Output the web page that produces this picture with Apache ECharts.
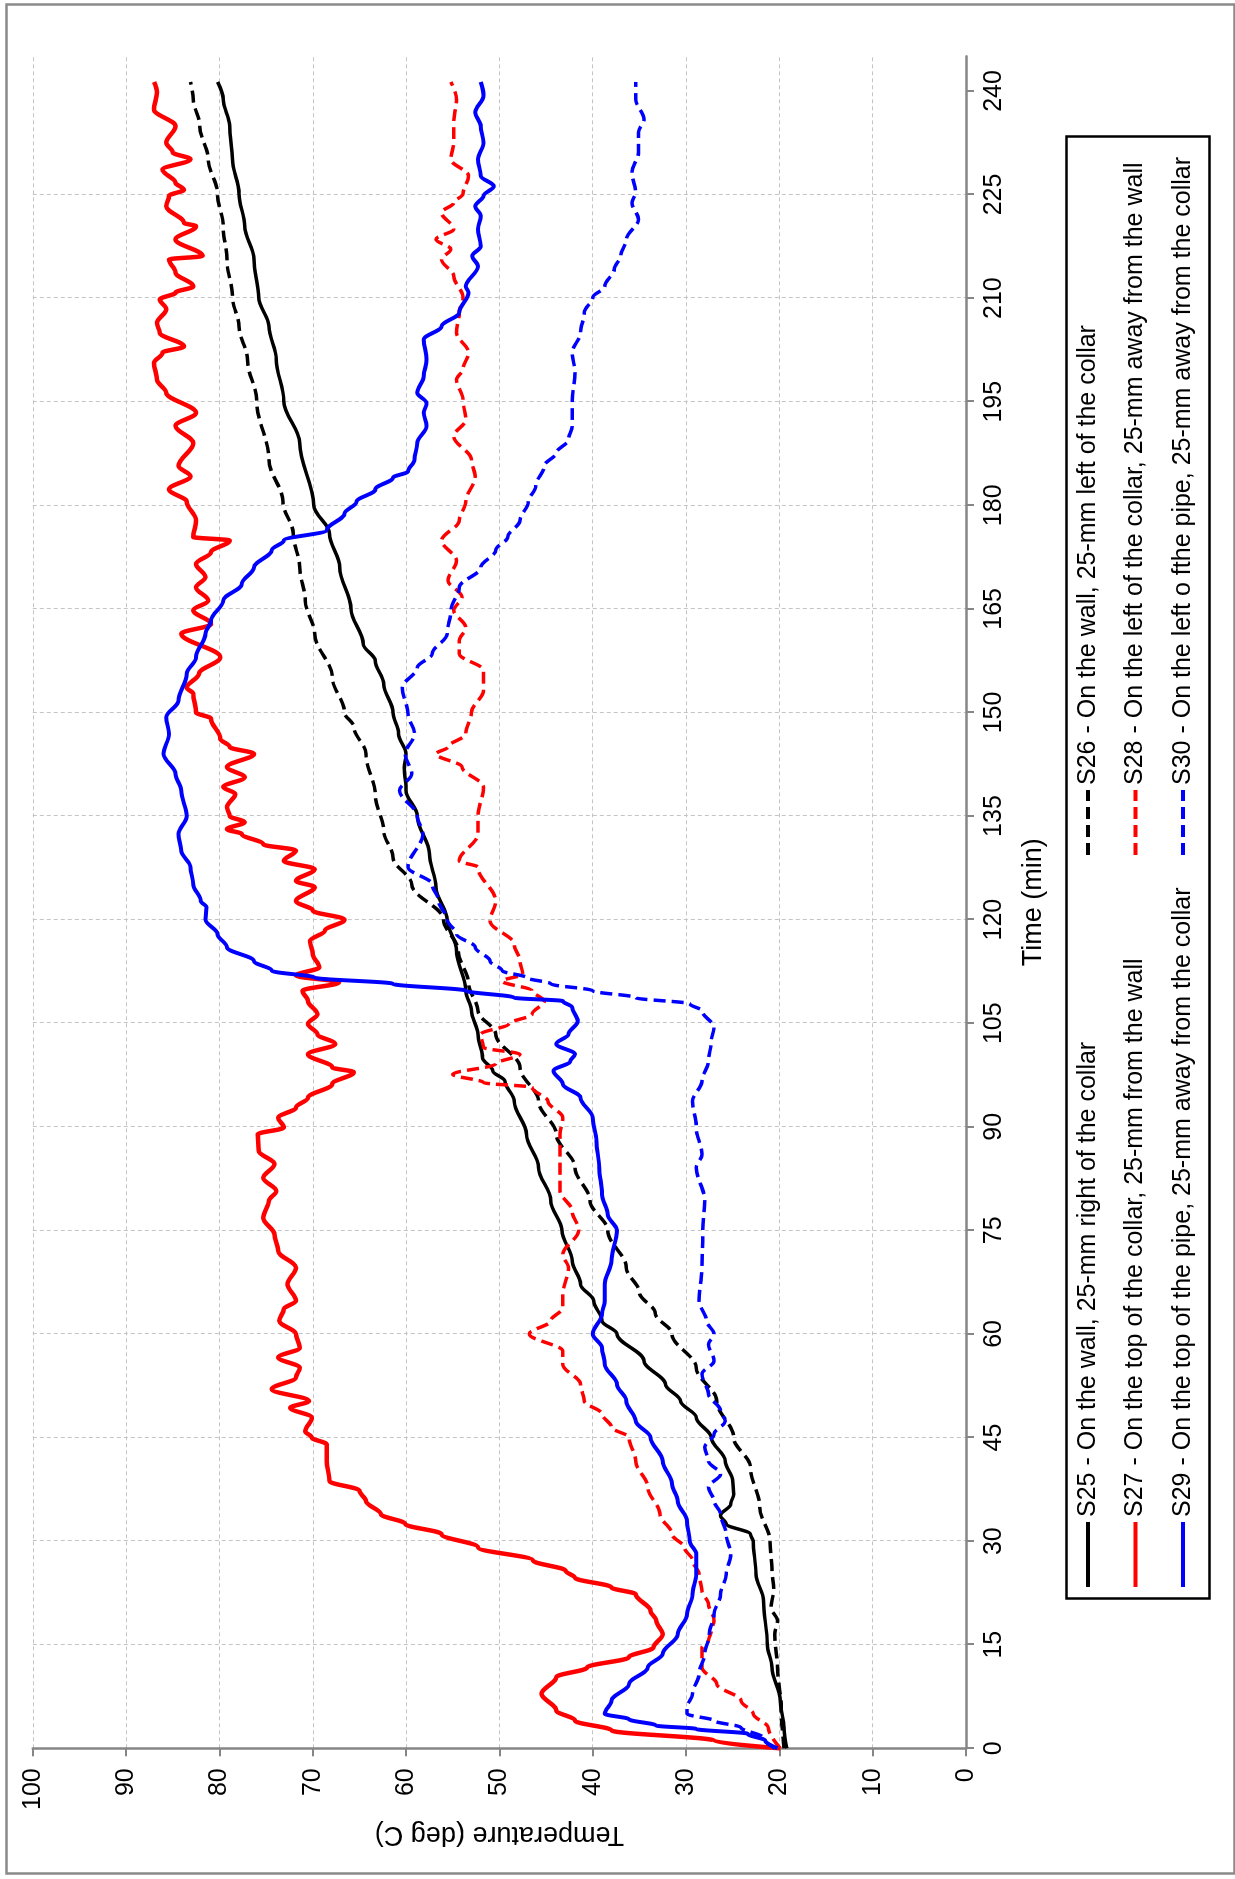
<!DOCTYPE html>
<html>
<head>
<meta charset="utf-8">
<script src="https://cdn.jsdelivr.net/npm/echarts@6/dist/echarts.min.js"></script>
<style>
  html, body { margin: 0; padding: 0; width: 1235px; height: 1879px; overflow: hidden; background: #fff; }
  /* The chart is laid out landscape and turned a quarter-turn counter-clockwise onto the portrait page. */
  #chart { position: absolute; left: 0; top: 0; width: 1879px; height: 1235px;
           transform-origin: 0 0; transform: translateY(1879px) rotate(-90deg); }
</style>
</head>
<body>
<div id="chart"></div>
<script>
// Thermocouple readings, [time (min), temperature (deg C)]
const seriesNames = [
  'S25 - On the wall, 25-mm right of the collar',
  'S26 - On the wall, 25-mm left of the collar',
  'S27 - On the top of the collar, 25-mm from the wall',
  'S28 - On the left of the collar, 25-mm away from the wall',
  'S29 - On the top of the pipe, 25-mm away from the collar',
  'S30 - On the left o fthe pipe, 25-mm away from the collar'
];

const timeTicks = [0, 15, 30, 45, 60, 75, 90, 105, 120, 135, 150, 165, 180, 195, 210, 225, 240];

const s25 = [[0,19.2],[3,19.5],[6.9,19.9],[11.7,20.8],[15.1,21.3],[21.4,21.7],[25.2,22.5],[30,22.8],[31,23.1],[32.5,25.7],[33.7,26.3],[35.4,25.2],[36.8,24.9],[38.7,25.0],[41.6,25.8],[45,27.3],[47.9,28.9],[50.3,30.6],[52.7,32.2],[56.1,34.5],[60,37.4],[61.9,39.0],[64.8,39.9],[67.2,41.3],[70.6,42.2],[75,43.3],[79.3,44.5],[84.1,45.8],[88.9,47.1],[93.7,48.4],[96.6,49.4],[98.1,50.7],[100,51.8],[103.4,52.3],[106.8,53.0],[109.7,53.6],[115.5,54.6],[120,55.6],[124.7,56.8],[129.5,57.5],[135,58.8],[138.7,60.0],[142,60.2],[144,60.0],[146.9,60.8],[150,61.4],[154.1,62.4],[157.5,63.3],[159.9,64.6],[165,65.9],[171,67.1],[175.9,68.2],[180,69.9],[189,71.4],[195.1,73.1],[201.1,73.9],[205.9,74.7],[210.1,75.8],[215.6,76.3],[220.4,77.3],[225.1,77.9],[230.1,78.6],[234.9,78.9],[238.8,79.6],[241.3,80.2]];

const s26 = [[0,19.5],[6,19.8],[11.7,20.2],[16.5,20.5],[18.5,20.2],[20.4,20.9],[23,20.6],[26,20.8],[30,21.0],[34.9,22.1],[40.7,23.1],[45,24.9],[50.3,26.7],[55.1,28.9],[60,31.5],[63,33.3],[66,35.0],[69.6,36.4],[75,38.4],[79.3,40.3],[84.1,41.9],[88.9,43.9],[93.7,45.8],[98.6,47.8],[103.4,50.4],[106.8,52.3],[110.7,53.3],[115.5,54.4],[120,56.0],[125.1,59.4],[129,61.4],[132.9,62.4],[138,63.3],[144,64.3],[147.9,65.6],[150,66.6],[155.1,67.9],[161.4,69.8],[166.2,70.8],[171,71.4],[175.9,72.1],[180.5,73.2],[186.6,74.7],[195.1,76.0],[201.1,77.0],[205.9,77.9],[210.1,78.6],[215.6,79.2],[220.4,79.6],[225.1,80.2],[230.1,81.2],[234.9,82.1],[238.8,82.8],[241.3,83.1]];

const s27 = [[0,19.9],[1.1,27.0],[2.6,38.0],[4.0,41.9],[5.5,43.9],[7.9,45.5],[10.3,43.9],[11.7,40.6],[13.2,36.1],[14.6,33.5],[16.5,32.5],[18.5,33.2],[19.9,33.8],[22.3,35.4],[23.3,38.0],[24.7,41.9],[25.7,42.9],[27.2,46.4],[29.1,52.3],[31.0,56.2],[32.5,60.1],[33.9,62.7],[35.8,64.3],[37.3,65.0],[38.7,68.2],[41.6,68.5],[44.0,68.5],[45,70.1],[45.9,70.8],[47.9,70.1],[49.3,72.4],[50.3,70.4],[52,74.4],[53.7,71.8],[55.1,71.4],[56.6,73.7],[58.0,71.4],[60,71.8],[61.9,73.6],[63.6,73.1],[64.8,71.8],[67.2,72.7],[69.6,71.8],[72,73.7],[74.4,74.1],[76.8,75.3],[79.3,74.7],[80.7,73.9],[82.6,75.3],[84.6,74.1],[86.5,75.8],[88.9,75.9],[89.9,73.1],[91.3,73.7],[92.8,71.8],[94.2,70.5],[96.2,67.9],[97.9,65.6],[98.6,67.9],[100.5,70.5],[102,67.6],[103.4,69.5],[104.9,70.5],[106.3,69.5],[108.2,70.5],[109.7,71.1],[110.9,67.2],[111.9,71.8],[113.1,69.3],[115,70.0],[116.9,70.3],[118.4,68.7],[120,66.6],[121.3,70.0],[122.7,71.8],[124.7,69.8],[125.6,71.8],[127.3,69.8],[128.5,73.1],[130,71.8],[130.9,75.3],[132.4,77.6],[133.1,79.2],[134.1,77.3],[135,78.9],[136.3,79.2],[138.2,78.3],[139.2,79.6],[140.6,77.3],[142.1,79.2],[144,76.3],[145,78.9],[146.2,79.9],[149.1,80.9],[150,82.5],[152.7,82.8],[153.6,83.5],[155.6,82.2],[158,79.9],[161.4,84.1],[162.8,80.9],[164.8,82.8],[166.2,81.2],[168.1,82.5],[169.6,81.5],[171.5,82.5],[173.2,80.9],[174.9,78.9],[175.4,82.8],[177.8,82.5],[180.5,83.5],[182.3,85.4],[184.2,83.1],[185.7,84.4],[189,82.8],[191.5,84.7],[193.4,82.5],[196.3,85.7],[198.2,86.7],[200.6,87.0],[202.1,86.1],[203,83.8],[205,86.4],[206.4,86.7],[208.4,85.7],[209.8,86.4],[210.8,84.7],[211.7,82.8],[213.7,84.7],[215.6,85.4],[216.1,81.8],[218.5,84.7],[220.4,82.5],[220.9,83.8],[223.3,85.7],[224.8,85.4],[225.7,83.8],[226.7,84.7],[228.6,86.1],[230.1,83.1],[231.1,85.0],[232.5,85.7],[234.9,84.7],[237.3,87.0],[239.8,86.7],[241.3,87.0]];

const s28 = [[0,19.9],[3.0,21.2],[5.0,22.8],[6.9,24.1],[9.3,26.7],[11.7,28.3],[14.6,28.3],[15.6,27.6],[17.0,27.3],[18.5,27.0],[20.9,27.6],[22.8,28.3],[25.2,28.6],[27.2,29.3],[29.1,30.2],[31.0,31.5],[33.9,32.8],[37.8,34.1],[41.6,35.4],[45,36.1],[46.5,38.0],[48.4,39.0],[50.3,40.9],[52.7,41.3],[55.6,43.2],[57.5,43.2],[60,46.8],[61.9,44.5],[63.8,43.2],[65.7,43.2],[69.6,42.6],[71.5,43.2],[75,41.5],[77.8,42.2],[80.7,43.5],[84.1,43.5],[88.9,43.5],[91.3,43.2],[93.7,44.8],[95.7,46.5],[96.4,51.7],[97.6,55.0],[99.1,50.4],[100.5,47.8],[101.5,51.7],[103.4,52.0],[104.9,49.0],[106.3,46.5],[108.2,45.2],[109.7,46.5],[111.1,49.7],[112.1,47.5],[114,47.8],[116.4,48.4],[119.8,51.0],[122.7,50.4],[127.6,52.3],[128.5,54.3],[132.4,52.3],[135,52.3],[139.2,51.7],[142.1,54.0],[144,56.8],[145,55.5],[146.9,53.6],[150,53.0],[153.2,51.7],[156.1,51.7],[158.5,54.3],[160.4,54.3],[162.3,53.6],[164.8,54.9],[166.7,54.0],[169.1,55.5],[172,54.6],[174.9,56.2],[177.8,54.3],[180.5,53.6],[184.2,52.6],[186.6,53.0],[190,54.9],[192.4,53.6],[195.3,53.9],[198.2,54.6],[199.7,53.9],[202.1,53.3],[205,54.6],[207.9,54.3],[210.1,53.9],[213.2,54.9],[215.6,56.2],[217.1,55.2],[218.5,56.8],[220,54.9],[222.4,56.2],[223.8,54.9],[225.1,53.9],[227.7,53.3],[230.1,55.2],[232.5,54.9],[235.4,54.9],[238.8,54.6],[241.3,55.2]];

const s29 = [[0,20.2],[1.1,21.5],[2.1,23.4],[2.8,28.9],[3.3,33.2],[4.2,36.1],[5.0,38.7],[6.9,38.0],[9.3,36.1],[11.7,34.1],[13.7,32.5],[16.5,30.9],[19.4,29.9],[22.3,29.3],[25.2,28.9],[28.1,28.9],[30,29.6],[32.9,29.9],[35.8,30.9],[38.3,31.5],[41.6,32.5],[45,33.8],[47.4,35.4],[50.3,36.4],[52.7,37.4],[55.6,38.7],[58,39.0],[60,40.0],[62.9,39.0],[64.8,38.7],[67.2,38.7],[70.6,38.0],[75,37.4],[77.3,38.4],[80.2,39.0],[84.1,39.3],[87.9,39.6],[91.3,40.0],[94.2,41.3],[96.2,43.2],[98.1,44.2],[99.5,42.4],[100.5,41.9],[102,43.9],[103.4,42.6],[105.3,41.6],[107.3,42.2],[108.2,43.2],[108.7,48.4],[109.7,53.6],[110.7,61.4],[111.6,69.8],[112.6,74.4],[114,76.3],[116,79.2],[117.9,80.2],[120,81.5],[121.8,81.4],[122.7,82.0],[125.1,82.8],[127.6,83.1],[130,84.1],[132.4,84.4],[135,83.5],[138.7,84.1],[141.1,84.7],[144,86.0],[146.9,85.4],[149.3,85.7],[151.7,84.4],[155.6,83.5],[158,82.5],[161.4,81.5],[163.3,80.9],[166.2,79.6],[168.6,77.6],[171,76.3],[173.5,74.4],[174.9,73.1],[176.4,68.5],[178.8,66.6],[180.5,65.3],[182.3,63.3],[184,61.4],[184.9,59.8],[186.6,59.1],[189,58.8],[191.5,57.8],[193.4,58.1],[194.8,57.8],[196.3,58.8],[198.7,58.1],[201.1,57.8],[204,58.1],[205.9,56.2],[207.9,54.3],[210.8,53.3],[211.7,53.6],[214.6,52.3],[216.1,52.9],[217.5,52.0],[220,52.3],[221.9,52.0],[223.3,52.6],[224.8,51.7],[226.2,50.6],[227.7,52.0],[230.1,52.3],[232.5,51.7],[234.9,52.0],[236.9,52.6],[239.3,51.7],[241.3,52.0]];

const s30 = [[0,20.5],[1.6,21.8],[3.0,24.1],[4.0,27.0],[5.0,29.9],[5.9,29.9],[7.9,29.3],[10.8,28.6],[13.7,28.0],[16.5,27.5],[19.4,27.0],[22.3,26.3],[25.2,25.7],[28.1,25.2],[31.0,25.7],[33.9,26.3],[35.8,27.0],[37.8,27.6],[39.7,26.3],[41.6,27.6],[43.6,28.0],[45.5,27.0],[47.4,25.8],[48.9,26.3],[51.3,27.6],[54.2,28.3],[56.1,27.0],[58.5,27.6],[60,27.0],[61.9,27.8],[64.8,28.6],[69.6,28.3],[75,28.2],[79.3,28.0],[84.1,28.9],[86,28.3],[89.9,28.9],[93.7,29.3],[96.6,28.3],[99.5,27.6],[102.4,27.3],[104.4,27.0],[106.8,28.3],[107.8,29.6],[108.7,35.4],[109.7,40.0],[110.7,44.5],[111.6,47.1],[112.6,49.7],[114,51.0],[116,52.6],[117.9,54.6],[120,55.6],[122.7,56.5],[125.1,57.2],[127.6,59.8],[132.4,58.2],[135,58.8],[138.7,60.7],[141.1,59.4],[144,60.1],[146.9,59.1],[149.8,59.8],[153.6,60.4],[156.5,58.8],[158.5,57.2],[161.4,55.6],[164.8,55.2],[168.1,54.3],[171,52.0],[173.5,50.4],[175.4,49.1],[177.8,47.8],[180.5,46.9],[182.8,46.1],[185.7,45.2],[187.6,43.9],[189.5,42.6],[191.5,42.2],[195.1,42.2],[199.2,41.9],[202.1,42.2],[205,41.3],[207.9,40.9],[210.1,40.0],[211.7,38.7],[214.2,37.7],[216.1,37.0],[218.5,36.4],[221.4,35.1],[223.8,35.8],[225.3,35.4],[228.2,35.8],[231.1,35.1],[234,35.1],[235.9,34.5],[238.8,35.4],[241.3,35.4]];

const FONT = "'Liberation Sans', Arial, Helvetica, sans-serif";
const AXIS_GREY = '#868686';
const GRID_GREY = '#c4c4c4';

function lineSeries(name, data, color, width, dashed) {
  return {
    name: name,
    type: 'line',
    data: data,
    showSymbol: false,
    symbol: 'none',
    smooth: 0.35,
    smoothMonotone: 'x',
    clip: true,
    lineStyle: { color: color, width: width, type: dashed ? [12, 6] : 'solid', cap: 'butt', join: 'round' },
    itemStyle: { color: color },
    emphasis: { disabled: true }
  };
}

// Two legend columns inside one framed box; the marker circle is hidden so only the line sample shows.
const legendCommon = {
  orient: 'vertical',
  top: 1074,
  padding: 0,
  itemWidth: 65,
  itemHeight: 28,
  itemGap: 19.5,
  selectedMode: false,
  z: 10,
  itemStyle: { opacity: 0 },
  lineStyle: { width: 4 },
  textStyle: { fontFamily: FONT, fontSize: 25, color: '#000', lineHeight: 28 }
};

const chart = echarts.init(document.getElementById('chart'), null, { renderer: 'canvas' });
chart.setOption({
  animation: false,
  backgroundColor: '#ffffff',
  grid: { left: 130.7, top: 32.8, width: 1691.9, height: 933.2, containLabel: false },
  xAxis: {
    type: 'value',
    min: 0, max: 245, interval: 15,
    name: 'Time (min)',
    nameLocation: 'middle',
    nameGap: 54,
    nameTextStyle: { fontFamily: FONT, fontSize: 27, color: '#000' },
    axisLine: { show: true, onZero: false, lineStyle: { color: AXIS_GREY, width: 2.5 } },
    axisTick: { show: true, inside: false, length: 8, customValues: timeTicks, lineStyle: { color: AXIS_GREY, width: 2 } },
    axisLabel: { customValues: timeTicks, margin: 16, fontFamily: FONT, fontSize: 25, color: '#000' },
    splitLine: { show: true, showMaxLine: false, lineStyle: { color: GRID_GREY, width: 1, type: [4, 3] } }
  },
  yAxis: {
    type: 'value',
    min: 0, max: 100, interval: 10,
    name: 'Temperature (deg C)',
    nameLocation: 'middle',
    nameRotate: 90,
    nameGap: 70,
    nameTextStyle: { fontFamily: FONT, fontSize: 27, color: '#000' },
    axisLine: { show: true, onZero: false, lineStyle: { color: AXIS_GREY, width: 2.5 } },
    axisTick: { show: true, inside: false, length: 8, lineStyle: { color: AXIS_GREY, width: 2 } },
    axisLabel: { margin: 20, fontFamily: FONT, fontSize: 25, color: '#000' },
    splitLine: { show: true, lineStyle: { color: GRID_GREY, width: 1, type: [4, 3] } }
  },
  legend: [
    Object.assign({}, legendCommon, { left: 290, data: [seriesNames[0], seriesNames[2], seriesNames[4]] }),
    Object.assign({}, legendCommon, { left: 1022, data: [seriesNames[1], seriesNames[3], seriesNames[5]] })
  ],
  graphic: [
    { type: 'rect', left: 3, top: 4, z: -10, silent: true,
      shape: { width: 1869, height: 1228 },
      style: { fill: null, stroke: '#8a8a8a', lineWidth: 2.5 } },
    { type: 'rect', left: 278, top: 1064, z: -10, silent: true,
      shape: { width: 1462, height: 143 },
      style: { fill: null, stroke: '#000', lineWidth: 2.5 } }
  ],
  series: [
    lineSeries(seriesNames[0], s25, '#000000', 3.5, false),
    lineSeries(seriesNames[1], s26, '#000000', 3.5, true),
    lineSeries(seriesNames[2], s27, '#ff0000', 4.5, false),
    lineSeries(seriesNames[3], s28, '#ff0000', 3.5, true),
    lineSeries(seriesNames[4], s29, '#0000ff', 4, false),
    lineSeries(seriesNames[5], s30, '#0000ff', 3.5, true)
  ]
});
</script>
</body>
</html>
